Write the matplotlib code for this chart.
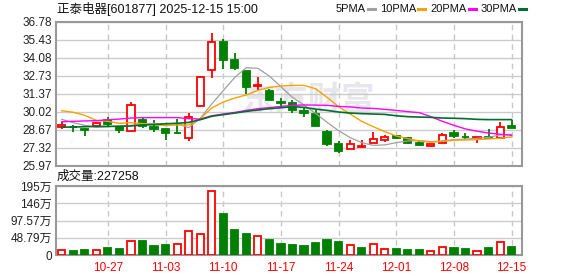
import matplotlib
matplotlib.use('Agg')
import matplotlib.pyplot as plt
import numpy as np

plt.rcParams['font.family'] = ['Liberation Sans', 'Noto Sans CJK SC', 'DejaVu Sans']

# candle data (one per trading day, 2025-10-21 .. 2025-12-15)
opens  = [28.85, 28.90, 28.73, 28.95, 29.40, 28.90, 28.55, 29.38, 28.88, 28.73,
          28.42, 28.08, 30.45, 33.13, 35.23, 33.90, 33.05, 31.98, 31.55, 30.72,
          30.65, 30.10, 29.85, 28.50, 27.62, 27.20, 27.40, 27.65, 27.88, 28.20,
          28.03, 27.70, 27.47, 27.65, 28.43, 28.12, 28.05, 28.10, 28.07, 28.95]
closes = [29.03, 28.87, 28.65, 29.15, 29.10, 28.65, 30.50, 28.93, 28.73, 28.42,
          28.40, 29.60, 32.60, 35.23, 33.93, 33.33, 31.90, 32.05, 30.92, 30.70,
          30.15, 29.90, 28.97, 27.62, 27.10, 27.58, 27.47, 27.95, 28.13, 28.05,
          27.70, 27.55, 27.60, 28.28, 28.23, 28.10, 28.10, 28.07, 28.85, 28.78]
highs  = [29.23, 29.03, 28.77, 29.25, 29.60, 28.95, 30.73, 29.53, 29.38, 28.75,
          29.45, 29.90, 32.60, 35.96, 35.48, 34.41, 33.08, 32.65, 31.70, 31.03,
          30.90, 30.40, 30.15, 28.63, 27.82, 27.87, 27.87, 28.53, 28.28, 28.28,
          28.15, 27.85, 27.60, 28.43, 28.68, 28.43, 28.12, 28.73, 29.28, 29.40]
lows   = [28.70, 28.48, 28.18, 28.95, 28.95, 28.45, 28.55, 28.83, 28.53, 27.93,
          28.33, 27.85, 30.45, 32.53, 33.20, 33.15, 31.38, 31.68, 30.92, 30.40,
          29.95, 29.60, 28.97, 27.47, 26.95, 27.20, 27.37, 27.65, 27.73, 27.95,
          27.62, 27.48, 27.37, 27.65, 28.03, 27.98, 27.70, 27.98, 28.07, 28.78]

# moving averages
ma5  = [29.45, 29.20, 29.00, 28.85, 28.90, 28.95, 29.00, 29.10, 29.15, 29.10,
        29.15, 28.82, 29.53, 30.60, 31.60, 32.60, 33.33, 33.28, 32.70, 31.90,
        31.10, 30.53, 29.90, 29.23, 28.60, 28.08, 27.70, 27.50, 27.53, 27.70,
        27.83, 27.85, 27.78, 27.83, 27.93, 27.97, 28.03, 28.10, 28.28, 28.33]
ma10 = [30.10, 29.98, 29.75, 29.37, 29.30, 29.15, 29.20, 29.13, 29.05, 28.98,
        29.03, 29.03, 29.50, 30.30, 30.75, 31.05, 31.28, 31.62, 31.85, 31.95,
        32.00, 32.00, 31.75, 31.10, 30.40, 29.85, 29.30, 28.90, 28.53, 28.20,
        28.00, 27.82, 27.73, 27.80, 27.88, 27.90, 27.93, 27.98, 28.03, 28.13]
ma20 = [29.27, 29.30, 29.33, 29.35, 29.42, 29.47, 29.55, 29.58, 29.58, 29.58,
        29.58, 29.50, 29.47, 29.72, 29.85, 29.97, 30.12, 30.25, 30.33, 30.42,
        30.50, 30.53, 30.52, 30.50, 30.42, 30.38, 30.30, 30.27, 30.20, 30.12,
        30.03, 29.95, 29.65, 29.30, 29.00, 28.73, 28.56, 28.42, 28.33, 28.25]
ma30 = [28.87, 28.87, 28.90, 28.92, 28.92, 28.93, 28.95, 29.03, 29.05, 29.12,
        29.15, 29.22, 29.42, 29.68, 29.80, 29.92, 30.05, 30.15, 30.25, 30.32,
        30.40, 30.35, 30.22, 30.12, 30.00, 29.92, 29.88, 29.85, 29.82, 29.72,
        29.65, 29.62, 29.60, 29.55, 29.53, 29.50, 29.45, 29.43, 29.43, 29.43]

# volume in 万手, and whether the bar is drawn as "up" (red)
volumes = [13.2, 11.3, 14.1, 13.2, 20.7, 17.9, 39.6, 40.5, 25.5, 28.3,
           31.1, 67.9, 59.4, 181.0, 116.0, 71.6, 60.3, 52.8, 43.4, 32.1,
           28.3, 25.5, 33.9, 42.4, 36.8, 27.3, 19.8, 30.2, 17.0, 17.0,
           14.1, 14.1, 10.4, 21.7, 19.8, 17.0, 10.4, 19.8, 35.8, 22.7]
vol_up = [1, 0, 0, 1, 0, 0, 1, 0, 0, 0,
          1, 1, 1, 1, 0, 0, 0, 1, 0, 0,
          0, 0, 0, 0, 0, 1, 0, 1, 1, 0,
          0, 0, 1, 1, 0, 0, 1, 0, 1, 0]

price_ticks = [25.97, 27.32, 28.67, 30.02, 31.37, 32.73, 34.08, 35.43, 36.78]
vol_ticks = [0, 48.79, 97.57, 146.0, 195.14]
vol_labels = ['0', '48.79万', '97.57万', '146万', '195万']
date_pos = [4, 9, 14, 19, 24, 29, 34, 39]
date_labels = ['10-27', '11-03', '11-10', '11-17', '11-24', '12-01', '12-08', '12-15']

legend_labels = ['5PMA', '10PMA', '20PMA', '30PMA']
legend_colors = ['#a0a0a0', '#f5a300', '#ff00ff', '#006f2e']

RED = '#ff0000'
GREEN = '#008000'
W, H = 578, 276

fig = plt.figure(figsize=(W / 100, H / 100), dpi=100)

def px_axes(x0, y0, x1, y1):
    return fig.add_axes([x0 / W, 1 - y1 / H, (x1 - x0) / W, (y1 - y0) / H])

ax = px_axes(56, 21.7, 522, 165.7)
axv = px_axes(56, 186, 522, 255)

x = np.arange(len(opens))
o = np.array(opens)
c = np.array(closes)
up = c >= o

for a in (ax, axv):
    a.set_xlim(-0.5, len(x) - 0.1)
    for s in a.spines.values():
        s.set_color('#999999')
        s.set_linewidth(1.5)
    a.tick_params(length=0, labelsize=8.5, colors='#222222', pad=3)
    a.set_xticks(date_pos)
    a.grid(axis='y', color='#cccccc', lw=1)
    for p in date_pos:
        a.axvline(p, color='#c8c8c8', lw=1, ls=(0, (4, 3)), zorder=0)
    a.set_axisbelow(True)

# watermark
ax.text(0.54, 0.45, '东方财富', transform=ax.transAxes, ha='center', va='center',
        fontsize=24, color='#e6e6ec', family=['Noto Sans CJK SC'], fontweight='bold', zorder=0)

# candles
body_w = 0.62
cols = np.where(up, RED, GREEN)
ax.vlines(x, lows, highs, colors=cols, lw=1.3, zorder=2)
bottoms = np.minimum(o, c)
heights = np.maximum(np.abs(c - o), 0.03)
ax.bar(x, heights, body_w, bottom=bottoms, color=np.where(up, 'white', GREEN),
       edgecolor=cols, lw=1.3, zorder=3)

ax.plot(x, ma5, color=legend_colors[0], lw=0.9, zorder=4)
ax.plot(x, ma10, color=legend_colors[1], lw=1.0, zorder=4)
ax.plot(x, ma20, color=legend_colors[2], lw=1.0, zorder=4)
ax.plot(x, ma30, color=legend_colors[3], lw=1.2, zorder=4)

ax.set_ylim(price_ticks[0], price_ticks[-1])
ax.set_yticks(price_ticks)
ax.set_yticklabels([f'{t:.2f}' for t in price_ticks])
ax.set_xticklabels([])

# volume
vu = np.array(vol_up).astype(bool)
axv.bar(x, volumes, body_w, color=np.where(vu, 'white', GREEN),
        edgecolor=np.where(vu, RED, GREEN), lw=1.3, zorder=3)
axv.set_ylim(0, 195.14)
axv.set_yticks(vol_ticks)
axv.set_yticklabels(vol_labels)
axv.set_xticklabels(date_labels, color=RED, fontsize=8.5)
axv.tick_params(axis='x', pad=5, colors=RED)

# header texts
fig.text(57 / W, 1 - 9 / H, '正泰电器[601877] 2025-12-15 15:00', ha='left', va='center',
         fontsize=9, color='#111111')
fig.text(57 / W, 1 - 177 / H, '成交量:227258', ha='left', va='center',
         fontsize=9, color='#111111')

# legend: label then a short coloured dash right after it
renderer = fig.canvas.get_renderer()
lx = 336
for label, col in zip(legend_labels, legend_colors):
    t = fig.text(lx / W, 1 - 9 / H, label, ha='left', va='center', fontsize=8, color='#111111')
    end = t.get_window_extent(renderer).x1
    fig.add_artist(plt.Line2D([(end + 2) / W, (end + 9) / W], [1 - 9 / H, 1 - 9 / H],
                              color=col, lw=2.2, transform=fig.transFigure))
    lx = end + 14

fig.savefig('out.png', dpi=100)
